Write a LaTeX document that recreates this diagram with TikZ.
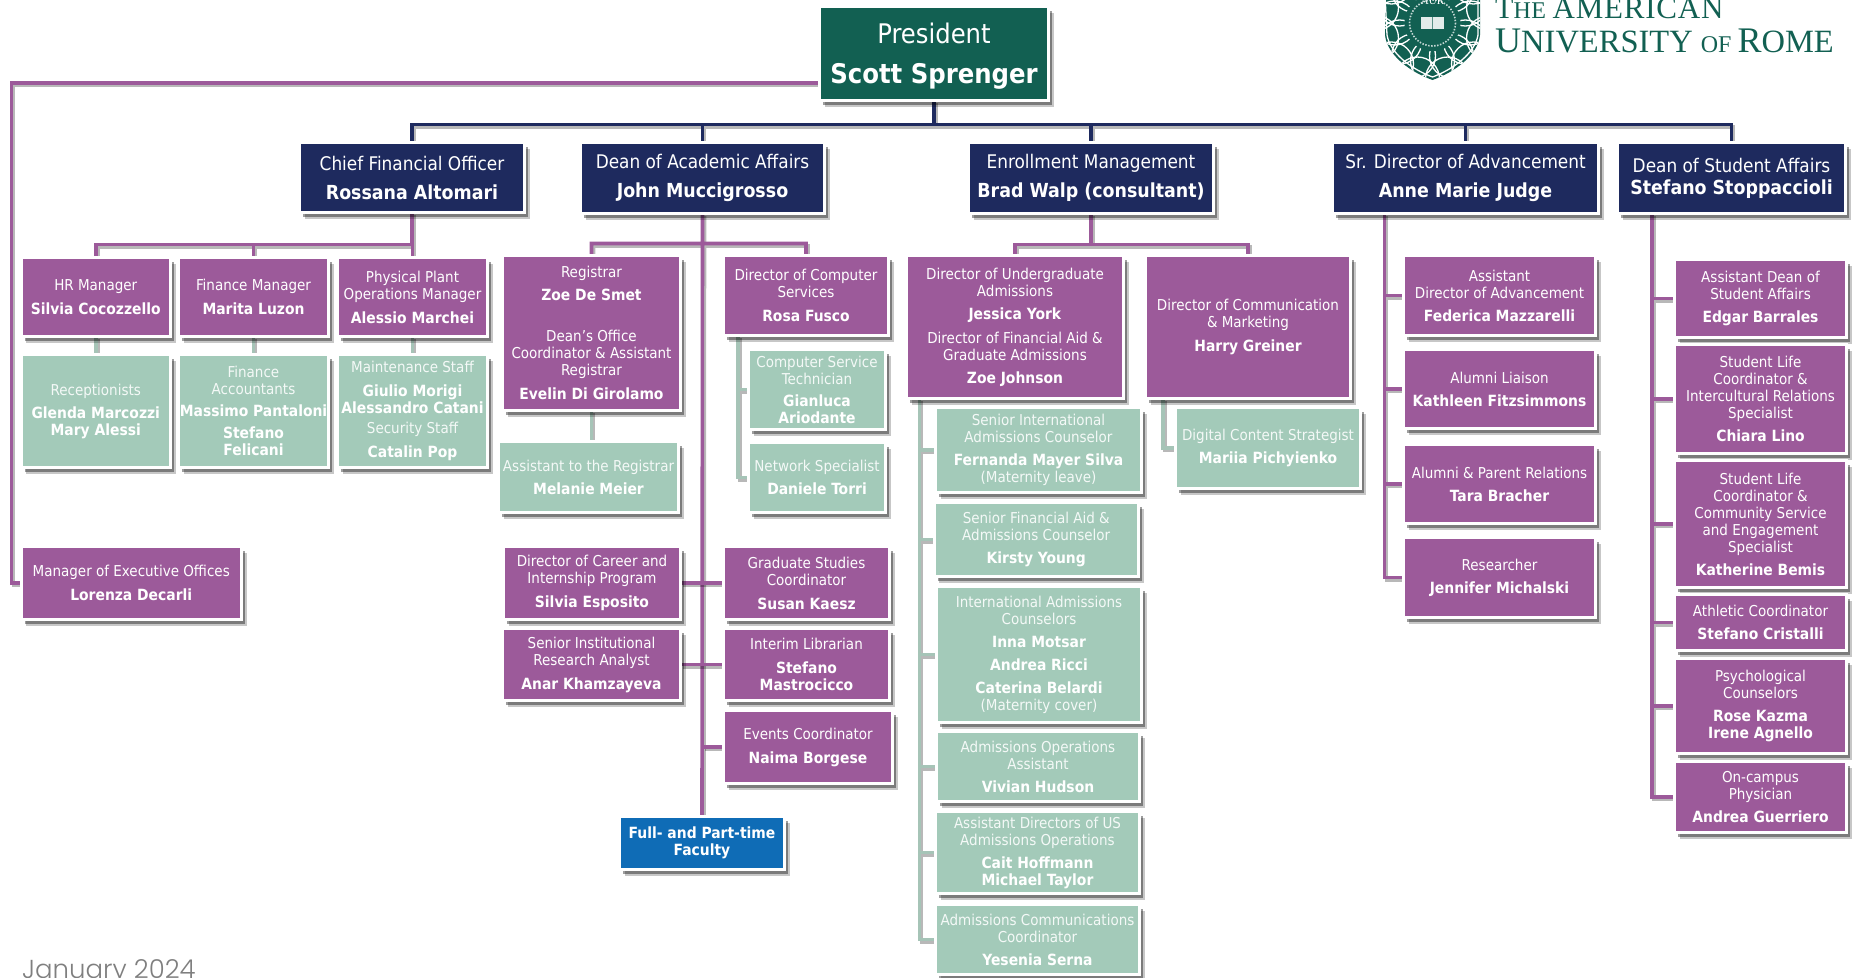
\documentclass[tikz,border=0pt]{standalone}
\usepackage{fontspec}
\setmainfont{DejaVu Sans Condensed}[BoldFeatures={Scale=1.03}]
\newfontfamily\logofont{Liberation Serif}
\newfontfamily\logospaced[LetterSpace=2.5]{Liberation Serif}
\newfontfamily\datefont{Poppins Light}
\usetikzlibrary{backgrounds}
\definecolor{cpurple}{HTML}{9C5A9A}
\definecolor{csage}{HTML}{A3CAB9}
\definecolor{cnavy}{HTML}{1E2A5E}
\definecolor{cgreen}{HTML}{126052}
\definecolor{cblue}{HTML}{0F6CB6}
\definecolor{cstub}{HTML}{A6C4B7}
\definecolor{cdate}{HTML}{7F7F7F}
\tikzset{
  base/.style={draw=white,line width=3pt,inner sep=0pt,outer sep=0pt,align=center,text=white,
    preaction={fill=black,fill opacity=.22,transform canvas={shift={(5pt,-6.5pt)}}},
    preaction={fill=black,fill opacity=.38,transform canvas={shift={(3.5pt,-4.5pt)}}}},
  pbox/.style={base,fill=cpurple,font=\fontsize{15}{17}\selectfont},
  sbox/.style={base,fill=csage,font=\fontsize{15}{17}\selectfont},
  nbox/.style={base,fill=cnavy,font=\fontsize{18.8}{29}\selectfont},
  nboxt/.style={base,fill=cnavy,font=\fontsize{18.8}{22}\selectfont},
  gbox/.style={base,fill=cgreen,font=\fontsize{27}{40}\selectfont},
  bbox/.style={base,fill=cblue,font=\fontsize{15}{17}\selectfont\bfseries},
  conn/.style={line width=3.6pt,
    preaction={draw=black,draw opacity=.28,line width=3.6pt,transform canvas={shift={(2pt,-2.5pt)}}}},
  cnavyl/.style={conn,draw=cnavy},
  cpurp/.style={conn,draw=cpurple},
  cgrey/.style={conn,draw=cstub},
  datetext/.style={anchor=base west,inner sep=0pt,text=cdate,font=\fontsize{26}{26}\datefont},
  logotext/.style={anchor=base west,inner sep=0pt,text=cgreen,font=\logofont},
}
\newcommand{\bx}[7]{%
  \pgfmathsetmacro{\bxw}{#5-#3+3}\pgfmathsetmacro{\bxh}{#6-#4+3}%
  \pgfmathsetmacro{\bxx}{(#3+#5)/2}\pgfmathsetmacro{\bxy}{(#4+#6)/2}%
  \node[#2,minimum width=\bxw pt,minimum height=\bxh pt] (#1) at (\bxx,\bxy) {#7};}
\newcommand{\rl}[1]{{\color{white!88!csage}#1}}
\newcommand{\nm}[1]{\textbf{#1}}
\begin{document}
\begin{tikzpicture}[x=1pt,y=-1pt]
\useasboundingbox (0,0) rectangle (1857,977);
\clip (0,0) rectangle (1857,977);
\bx{pres}{gbox}{821}{8}{1047}{99}{\rule{0pt}{26pt}President\\\textbf{\fontsize{26.3}{40}\selectfont Scott Sprenger}}
\bx{cfo}{nbox}{301}{144}{523}{211}{Chief Financial Officer\\\nm{Rossana Altomari}}
\bx{dean}{nbox}{582}{144}{823}{212}{Dean of Academic Affairs\\\nm{John Muccigrosso}}
\bx{enr}{nbox}{970}{144}{1212}{212}{Enrollment Management\\\nm{Brad Walp (consultant)}}
\bx{adv}{nbox}{1334}{144}{1597}{212}{Sr. Director of Advancement\\\nm{Anne Marie Judge}}
\bx{dsa}{nboxt}{1619}{144}{1844}{212}{Dean of Student Affairs\\\nm{Stefano Stoppaccioli}}
% finance
\bx{hr}{pbox}{22.5}{259}{169}{335}{HR Manager\\[7pt]\nm{Silvia Cocozzello}}
\bx{fin}{pbox}{180}{259}{327}{335}{Finance Manager\\[7pt]\nm{Marita Luzon}}
\bx{phys}{pbox}{339}{259}{486}{335}{Physical Plant\\Operations Manager\\[7pt]\nm{Alessio Marchei}}
\bx{rec}{sbox}{22.5}{356}{169}{466}{\rl{Receptionists}\\[6pt]\nm{Glenda Marcozzi}\\\nm{Mary Alessi}}
\bx{acc}{sbox}{180}{356}{327}{466}{\rl{Finance}\\\rl{Accountants}\\[5pt]\nm{Massimo Pantaloni}\\[5pt]\nm{Stefano}\\\nm{Felicani}}
\bx{mnt}{sbox}{339}{356}{486}{466}{\rl{Maintenance Staff}\\[7pt]\nm{Giulio Morigi}\\\nm{Alessandro Catani}\\[3pt]\rl{Security Staff}\\[7pt]\nm{Catalin Pop}}
% academic
\bx{reg}{pbox}{504}{257}{679}{409}{Registrar\\[6pt]\nm{Zoe De Smet}\\[24pt]Dean's Office\\Coordinator \& Assistant\\Registrar\\[7pt]\nm{Evelin Di Girolamo}}
\bx{asr}{sbox}{500}{443}{677}{511}{\rl{Assistant to the Registrar}\\[6pt]\nm{Melanie Meier}}
\bx{comp}{pbox}{725}{257}{887}{334}{Director of Computer\\Services\\[7pt]\nm{Rosa Fusco}}
\bx{tech}{sbox}{750}{351}{884}{428}{\rl{Computer Service}\\\rl{Technician}\\[5pt]\nm{Gianluca}\\\nm{Ariodante}}
\bx{net}{sbox}{750}{444}{884}{511}{\rl{Network Specialist}\\[6pt]\nm{Daniele Torri}}
\bx{mgr}{pbox}{22.5}{548}{240}{618}{Manager of Executive Offices\\[7pt]\nm{Lorenza Decarli}}
\bx{car}{pbox}{505}{548}{679}{618}{Director of Career and\\Internship Program\\[7pt]\nm{Silvia Esposito}}
\bx{grd}{pbox}{725}{548}{888}{618}{Graduate Studies\\Coordinator\\[7pt]\nm{Susan Kaesz}}
\bx{ins}{pbox}{504}{630}{679}{699}{Senior Institutional\\Research Analyst\\[7pt]\nm{Anar Khamzayeva}}
\bx{lib}{pbox}{725}{630}{888}{699}{Interim Librarian\\[7pt]\nm{Stefano}\\\nm{Mastrocicco}}
\bx{evt}{pbox}{725}{712}{891}{782}{Events Coordinator\\[7pt]\nm{Naima Borgese}}
\bx{fac}{bbox}{621}{818}{783}{868}{Full- and Part-time\\Faculty}
% enrollment
\bx{ug}{pbox}{908}{257}{1122}{397}{Director of Undergraduate\\Admissions\\[6pt]\nm{Jessica York}\\[7pt]Director of Financial Aid \&\\Graduate Admissions\\[6pt]\nm{Zoe Johnson}}
\bx{cmm}{pbox}{1147}{257}{1349}{397}{Director of Communication\\\& Marketing\\[7pt]\nm{Harry Greiner}}
\bx{sri}{sbox}{937}{409}{1140}{491}{\rl{Senior International}\\\rl{Admissions Counselor}\\[6pt]\nm{Fernanda Mayer Silva}\\\rl{(Maternity leave)}}
\bx{dig}{sbox}{1177}{409}{1359}{487}{\rl{Digital Content Strategist}\\[6pt]\nm{Mariia Pichyienko}}
\bx{srf}{sbox}{935.5}{504}{1137}{575}{\rl{Senior Financial Aid \&}\\\rl{Admissions Counselor}\\[6pt]\nm{Kirsty Young}}
\bx{int}{sbox}{938}{588}{1140}{721}{\rl{International Admissions}\\\rl{Counselors}\\[6pt]\nm{Inna Motsar}\\[6pt]\nm{Andrea Ricci}\\[6pt]\nm{Caterina Belardi}\\\rl{(Maternity cover)}}
\bx{ops}{sbox}{938}{733}{1138}{800}{\rl{Admissions Operations}\\\rl{Assistant}\\[6pt]\nm{Vivian Hudson}}
\bx{asd}{sbox}{937}{813}{1138}{892}{\rl{Assistant Directors of US}\\\rl{Admissions Operations}\\[6pt]\nm{Cait Hoffmann}\\\nm{Michael Taylor}}
\bx{acm}{sbox}{937}{906}{1138}{973}{\rl{Admissions Communications}\\\rl{Coordinator}\\[6pt]\nm{Yesenia Serna}}
% advancement
\bx{aad}{pbox}{1405}{257}{1594}{334}{Assistant\\Director of Advancement\\[6pt]\nm{Federica Mazzarelli}}
\bx{lia}{pbox}{1405}{351}{1594}{427}{Alumni Liaison\\[6pt]\nm{Kathleen Fitzsimmons}}
\bx{par}{pbox}{1405}{446}{1594}{522}{Alumni \& Parent Relations\\[6pt]\nm{Tara Bracher}}
\bx{res}{pbox}{1405}{539}{1594}{616}{Researcher\\[6pt]\nm{Jennifer Michalski}}
% student
\bx{ads}{pbox}{1676}{261}{1845}{336}{Assistant Dean of\\Student Affairs\\[6pt]\nm{Edgar Barrales}}
\bx{sli}{pbox}{1676}{346}{1845}{452}{Student Life\\Coordinator \&\\Intercultural Relations\\Specialist\\[6pt]\nm{Chiara Lino}}
\bx{slc}{pbox}{1676}{462}{1845}{586}{Student Life\\Coordinator \&\\Community Service\\and Engagement\\Specialist\\[6pt]\nm{Katherine Bemis}}
\bx{ath}{pbox}{1676}{596}{1845}{649}{Athletic Coordinator\\[6pt]\nm{Stefano Cristalli}}
\bx{psy}{pbox}{1676}{660}{1845}{752}{Psychological\\Counselors\\[6pt]\nm{Rose Kazma}\\\nm{Irene Agnello}}
\bx{onc}{pbox}{1676}{763}{1845}{831}{On-campus\\Physician\\[6pt]\nm{Andrea Guerriero}}
% connectors
\begin{scope}[on background layer]
\coordinate (topbus) at ([yshift=-24pt]pres.south);
\draw[cpurp] ([yshift=-29.5pt]pres.west) -| ([xshift=-9.5pt]mgr.west) -- (mgr.west);
\draw[cnavyl] (pres.south) -- (topbus) (cfo.north) |- (topbus) (dean.north) |- (topbus) (enr.north) |- (topbus) (adv.north) |- (topbus) (dsa.north) |- (topbus);
\coordinate (fbus) at ([yshift=-32pt]cfo.south);
\draw[cpurp] (cfo.south) -- (fbus) (hr.north) |- (fbus) (fin.north) |- (fbus) (phys.north) |- (fbus);
\draw[cgrey] (hr.south) -- (hr.south |- rec.north);
\draw[cgrey] (fin.south) -- (fin.south |- acc.north);
\draw[cgrey] (phys.south) -- (phys.south |- mnt.north);
\draw[cgrey] (reg.south) -- (reg.south |- asr.north);
\coordinate (dbus) at ([yshift=-30pt]dean.south);
\draw[cpurp] (dean.south) -- (fac.north) (reg.north) |- (dbus) (comp.north) |- (dbus);
\coordinate (ct) at ([xshift=-68pt]comp.south);
\draw[cgrey] (ct) |- (tech.west) (ct) |- (net.west);
\draw[cpurp] (car.east) -- (grd.west);
\draw[cpurp] (ins.east) -- (lib.west);
\draw[cpurp] (evt.west) -- (evt.west -| dean.south);
\coordinate (ebus) at ([yshift=-31pt]enr.south);
\draw[cpurp] (enr.south) -- (ebus) (ug.north) |- (ebus) (cmm.north) |- (ebus);
\coordinate (ut) at ([xshift=-95.5pt]ug.south);
\draw[cgrey] (ut) |- (sri.west) (ut) |- (srf.west) (ut) |- (int.west) (ut) |- (ops.west) (ut) |- (asd.west) (ut) |- (acm.west);
\draw[cgrey] ([xshift=-85pt]cmm.south) |- (dig.west);
\coordinate (at) at ([xshift=-81pt]adv.south);
\draw[cpurp] (at) |- (aad.west) (at) |- (lia.west) (at) |- (par.west) (at) |- (res.west);
\coordinate (st) at ([xshift=-79.5pt]dsa.south);
\draw[cpurp] (st) |- (ads.west) (st) |- (sli.west) (st) |- (slc.west) (st) |- (ath.west) (st) |- (psy.west) (st) |- (onc.west);
\end{scope}
% logo
\begin{scope}
\path[clip] (1385,-5) -- (1385,35) .. controls (1387,55) and (1410,72) .. (1432.5,80) .. controls (1455,72) and (1478,55) .. (1480,35) -- (1480,-5) -- cycle;
\fill[cgreen] (1380,-5) rectangle (1485,85);
\foreach \a in {0,30,...,330} {
  \draw[white,line width=1.3pt] (1432.5,23) ++(\a:38) circle[radius=22];
  \draw[white,line width=1.3pt] (1432.5,23) ++(\a+15:58) circle[radius=22];
}
\draw[white,line width=1.3pt] (1385,-5) -- (1387,35) .. controls (1390,53) and (1411,69) .. (1432.5,77) .. controls (1454,69) and (1475,53) .. (1478,35) -- (1478,-5);
\fill[cgreen] (1432.5,23) circle[radius=28];
\draw[white!75!cgreen,line width=1.6pt,dash pattern=on 1.5pt off 1.5pt] (1432.5,23) circle[radius=23];
\fill[white!88!cgreen] (1421,17) rectangle (1444,29);
\draw[cgreen!70,line width=.7pt] (1432.5,17) -- (1432.5,29);
\node[inner sep=0pt,text=white,font=\fontsize{11}{11}\logofont] (aur) at (1432.5,1) {AUR};
\end{scope}
\node[logotext] (l1) at (1495,18) {\logospaced\fontsize{30}{30}\selectfont T\fontsize{24}{24}\selectfont HE \fontsize{31}{31}\selectfont AMERICAN};
\node[logotext] (l2) at (1495,52) {\fontsize{36}{36}\selectfont U\fontsize{32.5}{32}\selectfont NIVERSITY \fontsize{24}{24}\selectfont OF \fontsize{36}{36}\selectfont R\fontsize{32.5}{32}\selectfont OME};
\node[datetext] (date) at (22,978) {January 2024};
\end{tikzpicture}
\end{document}
